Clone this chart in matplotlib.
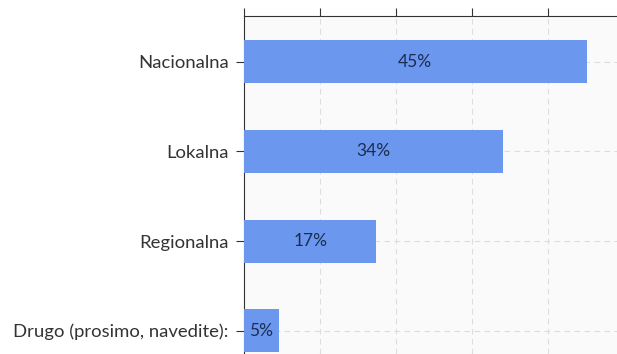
import matplotlib.pyplot as plt

# 数据
kategorije = ["Nacionalna", "Lokalna", "Regionalna", "Drugo (prosimo, navedite):"]
vrednosti = [45, 34, 17.4, 4.6]
oznake = ["45%", "34%", "17%", "5%"]

plt.rcParams['font.family'] = ['Lato', 'DejaVu Sans']

fig = plt.figure(figsize=(6.17, 3.54), dpi=100)
ax = fig.add_axes([244 / 617, 0.0, 1 - 244 / 617, 1 - 16 / 354])
ax.set_facecolor("#fafafa")

y = range(len(kategorije))
bars = ax.barh(y, vrednosti, height=0.48, color="#6b97ee", zorder=3)

for b, t in zip(bars, oznake):
    ax.text(b.get_width() / 2, b.get_y() + b.get_height() / 2, t,
            ha="center", va="center", fontsize=12.5, color="#1c2d52", zorder=4)

ax.set_yticks(list(y))
ax.set_yticklabels(kategorije, fontsize=13.3, color="#333333")
ax.set_ylim(3.26, -0.51)
ax.set_xlim(0, 49)
ax.set_xticks([0, 10, 20, 30, 40])
ax.xaxis.tick_top()
ax.tick_params(axis="x", labeltop=False, length=6, color="#333333")
ax.tick_params(axis="y", length=6, pad=5, color="#333333")

ax.grid(True, linestyle=(0, (5, 4)), color="#dddddd", linewidth=0.8, zorder=0)
for s in ["right", "bottom"]:
    ax.spines[s].set_visible(False)
ax.spines["left"].set_color("#333333")
ax.spines["top"].set_color("#333333")

fig.savefig("out.png", dpi=100)
